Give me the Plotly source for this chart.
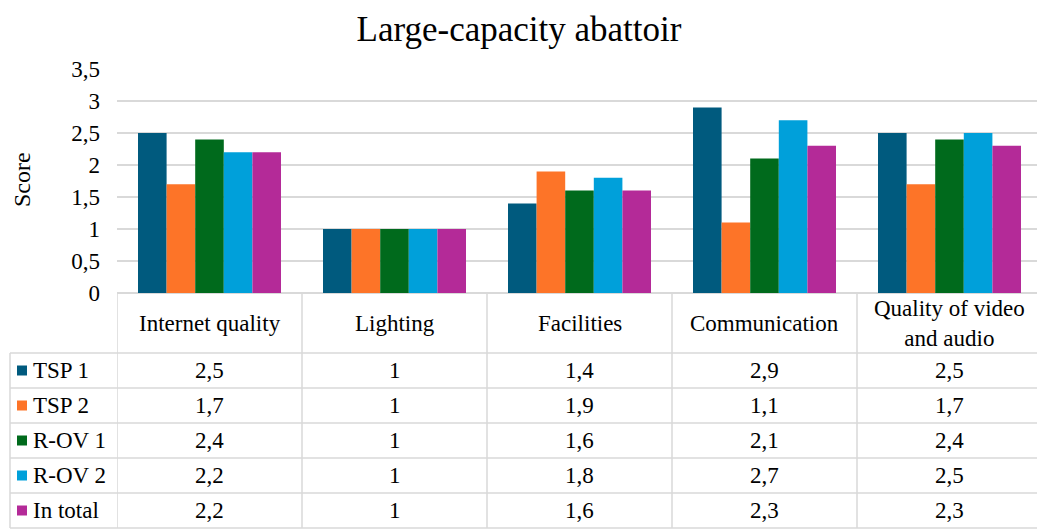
import plotly.graph_objs as go

categories = ['Internet quality', 'Lighting', 'Facilities', 'Communication',
              'Quality of video<br>and audio']
series_names = ['TSP 1', 'TSP 2', 'R-OV 1', 'R-OV 2', 'In total']
tsp1 = [2.5, 1, 1.4, 2.9, 2.5]
tsp2 = [1.7, 1, 1.9, 1.1, 1.7]
rov1 = [2.4, 1, 1.6, 2.1, 2.4]
rov2 = [2.2, 1, 1.8, 2.7, 2.5]
in_total = [2.2, 1, 1.6, 2.3, 2.3]
colors = ['#005a7e', '#fd7428', '#006a1c', '#00a0da', '#b42a98']

y_ticks = [0, 0.5, 1, 1.5, 2, 2.5, 3, 3.5]

# page has an 8px body margin, so the figure is drawn 8px in from the window edge
OFF = 8
W, H = 1045 - OFF, 532 - OFF
L, R, T, B = 117 - OFF, 3, 69 - OFF, 239
PW, PH = W - L - R, H - T - B
FONT = 'Liberation Serif'
GRID = '#d9d9d9'


# helpers: window pixel -> paper coordinate
def px(x):
    return (x - OFF - L) / PW


def py(y):
    return (H - B - (y - OFF)) / PH


fig = go.Figure()
all_series = [tsp1, tsp2, rov1, rov2, in_total]
for name, vals, col in zip(series_names, all_series, colors):
    fig.add_trace(go.Bar(x=categories, y=vals, name=name,
                         marker=dict(color=col, line=dict(width=0))))

fig.update_layout(
    width=W, height=H,
    margin=dict(l=L, r=R, t=T, b=B),
    plot_bgcolor='white', paper_bgcolor='white',
    barmode='group', bargap=0.227, bargroupgap=0,
    showlegend=False,
    separators=', ',
    font=dict(family=FONT, size=23, color='black'),
    title=dict(text='Large-capacity abattoir', xref='container',
               x=(519 - OFF) / W, xanchor='center',
               yref='container', y=1 - (29 - OFF) / H, yanchor='middle',
               font=dict(family=FONT, size=35)),
)
fig.update_xaxes(range=[-0.5, 4.5], showticklabels=False, showgrid=False,
                 showline=False, zeroline=False)
fig.update_yaxes(range=[0, 3.5], tickvals=y_ticks, gridcolor=GRID, gridwidth=1.5,
                 zeroline=True, zerolinecolor=GRID, zerolinewidth=1.5,
                 ticks='', ticklabelstandoff=16, tickfont=dict(size=23))

# y axis title
fig.add_annotation(text='Score', xref='paper', yref='paper', x=px(22), y=py(180),
                   xanchor='center', yanchor='middle', textangle=-90,
                   showarrow=False, font=dict(size=24))

# data table under the chart
row_tops = [353, 388, 423, 458, 493, 528]
shapes = []
for yy in row_tops:
    shapes.append(dict(type='line', xref='paper', yref='paper', x0=px(10), x1=1,
                       y0=py(yy), y1=py(yy), line=dict(color=GRID, width=1.5)))
shapes.append(dict(type='line', xref='paper', yref='paper', x0=px(10), x1=px(10),
                   y0=py(353), y1=py(528), line=dict(color=GRID, width=1.5)))
for i in range(len(categories) + 1):
    shapes.append(dict(type='line', xref='x', yref='paper', x0=i - 0.5, x1=i - 0.5,
                       y0=py(293), y1=py(528), line=dict(color=GRID, width=1.5)))

for i, cat in enumerate(categories):
    fig.add_annotation(text=cat, x=i, xref='x', yref='paper', y=py(323),
                       xanchor='center', yanchor='middle', showarrow=False,
                       font=dict(size=23))

for r, (name, vals, col) in enumerate(zip(series_names, all_series, colors)):
    yc = (row_tops[r] + row_tops[r + 1]) / 2
    shapes.append(dict(type='rect', xref='paper', yref='paper',
                       x0=px(17), x1=px(27), y0=py(yc - 5), y1=py(yc + 5),
                       fillcolor=col, line=dict(width=0)))
    fig.add_annotation(text=name, xref='paper', yref='paper', x=px(31), y=py(yc),
                       xanchor='left', yanchor='middle', showarrow=False,
                       font=dict(size=23))
    for i, v in enumerate(vals):
        fig.add_annotation(text=('%g' % v).replace('.', ','), x=i, xref='x',
                           yref='paper', y=py(yc), xanchor='center',
                           yanchor='middle', showarrow=False, font=dict(size=23))

fig.update_layout(shapes=shapes)

fig.write_html('out.html')
